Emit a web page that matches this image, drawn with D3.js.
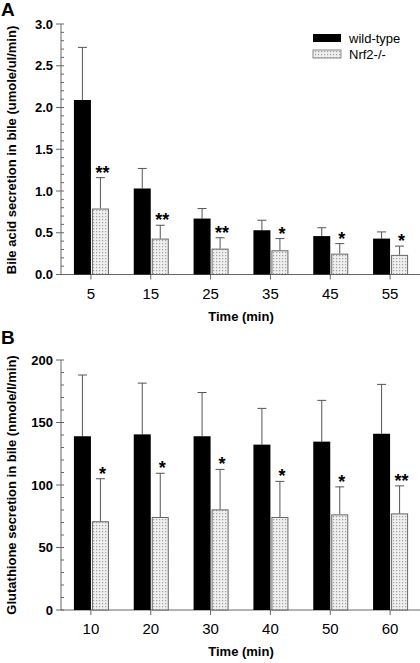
<!DOCTYPE html>
<html><head><meta charset="utf-8">
<script src="https://cdn.jsdelivr.net/npm/d3@7"></script>
<style>body{margin:0;background:#fff}svg{display:block;font-family:"Liberation Sans",Arial,sans-serif}</style>
</head><body><div id="c"></div>
<script>
const timesA = ["5","15","25","35","45","55"];
const wtA = [2.09,1.03,0.67,0.53,0.46,0.43];
const wtAerr = [0.63,0.24,0.12,0.12,0.10,0.08];
const koA = [0.79,0.43,0.31,0.29,0.25,0.235];
const koAerr = [0.37,0.16,0.13,0.14,0.12,0.105];
const sigA = ["**","**","**","*","*","*"];
const ticksA = [0,0.5,1.0,1.5,2.0,2.5,3.0];

const timesB = ["10","20","30","40","50","60"];
const wtB = [139,140.5,139,132.3,134.7,141];
const wtBerr = [49,41,35,29,33,39.5];
const koB = [71,74.4,80.5,74.4,76.5,77.3];
const koBerr = [34,35,32,28.5,22,22];
const sigB = ["*","*","*","*","*","**"];
const ticksB = [0,50,100,150,200];

const seriesNames = ["wild-type","Nrf2-/-"];

const W=420,H=663;
const svg=d3.select("#c").append("svg").attr("width",W).attr("height",H);
const defs=svg.append("defs");
const pat=defs.append("pattern").attr("id","dots").attr("patternUnits","userSpaceOnUse").attr("width",3).attr("height",3);
pat.append("rect").attr("width",3).attr("height",3).attr("fill","#efefef");
pat.append("rect").attr("width",1.2).attr("height",1.2).attr("fill","#a0a0a0");

function panel(cfg){
  const g=svg.append("g");
  const x=d3.scaleBand().domain(cfg.times).range([61,420]);
  const y=d3.scaleLinear().domain([0,cfg.max]).range([cfg.y0,cfg.y1]);
  const axc="#666";
  g.append("line").attr("x1",61).attr("x2",61).attr("y1",y(0)).attr("y2",y(cfg.max)).attr("stroke",axc);
  cfg.ticks.forEach(t=>{
    g.append("line").attr("x1",56).attr("x2",61).attr("y1",y(t)).attr("y2",y(t)).attr("stroke",axc);
    g.append("text").attr("x",53).attr("y",y(t)).attr("dy","0.35em").attr("text-anchor","end")
      .attr("font-size",13).attr("font-weight","bold").text(cfg.fmt(t));
  });
  d3.range(0,cfg.max+cfg.minor/2,cfg.minor).forEach(t=>{
    g.append("line").attr("x1",61).attr("x2",64).attr("y1",y(t)).attr("y2",y(t)).attr("stroke",axc);
  });
  g.append("line").attr("x1",61).attr("x2",420).attr("y1",y(0)).attr("y2",y(0)).attr("stroke",axc);
  cfg.times.forEach(t=>{
    const cx=x(t)+x.bandwidth()/2;
    g.append("line").attr("x1",cx).attr("x2",cx).attr("y1",y(0)).attr("y2",y(0)+5).attr("stroke",axc);
    g.append("text").attr("x",cx).attr("y",y(0)+24).attr("text-anchor","middle").attr("font-size",15).text(t);
  });
  cfg.times.forEach((t,i)=>{
    const cx=x(t)+x.bandwidth()/2;
    const bw=17;
    [[cfg.wt[i],cfg.wtErr[i],cx-bw/2],[cfg.ko[i],cfg.koErr[i],cx+1+bw/2]].forEach(([v,e,mx])=>{
      g.append("line").attr("x1",mx).attr("x2",mx).attr("y1",y(v)).attr("y2",y(v+e)).attr("stroke","#555");
      g.append("line").attr("x1",mx-4.5).attr("x2",mx+4.5).attr("y1",y(v+e)).attr("y2",y(v+e)).attr("stroke","#555");
    });
    g.append("rect").attr("x",cx-bw).attr("y",y(cfg.wt[i])).attr("width",bw).attr("height",y(0)-y(cfg.wt[i])).attr("fill","#000");
    g.append("rect").attr("x",cx+1.5).attr("y",y(cfg.ko[i])+0.5).attr("width",bw-1).attr("height",y(0)-y(cfg.ko[i])-0.5)
      .attr("fill","url(#dots)").attr("stroke","#666").attr("stroke-width",1);
    g.append("text").attr("x",cx+3+bw/2).attr("y",y(cfg.ko[i]+cfg.koErr[i])+1).attr("text-anchor","middle")
      .attr("font-size",18).attr("font-weight","bold").text(cfg.sig[i]);
  });
  g.append("text").attr("transform",`translate(16,${cfg.ytc}) rotate(-90)`).attr("text-anchor","middle")
    .attr("font-size",13).attr("font-weight","bold").text(cfg.ytitle);
  g.append("text").attr("x",241).attr("y",y(0)+46).attr("text-anchor","middle").attr("font-size",13).attr("font-weight","bold").text("Time (min)");
  g.append("text").attr("x",1).attr("y",cfg.letterY).attr("font-size",19).attr("font-weight","bold").text(cfg.letter);
}

panel({times:timesA,wt:wtA,wtErr:wtAerr,ko:koA,koErr:koAerr,sig:sigA,ticks:ticksA,max:3.0,minor:0.1,
  y0:274.5,y1:24,fmt:d3.format(".1f"),ytitle:"Bile acid secretion in bile (umole/ul/min)",ytc:150,letter:"A",letterY:16});
panel({times:timesB,wt:wtB,wtErr:wtBerr,ko:koB,koErr:koBerr,sig:sigB,ticks:ticksB,max:200,minor:10,
  y0:610,y1:360,fmt:d3.format("d"),ytitle:"Glutathione secretion in bile (nmole/l/min)",ytc:485,letter:"B",letterY:344});

const lg=svg.append("g");
seriesNames.forEach((n,i)=>{
  const yy=34+i*16;
  lg.append("rect").attr("x",313).attr("y",yy).attr("width",28).attr("height",8)
    .attr("fill",i===0?"#000":"url(#dots)").attr("stroke",i===0?"none":"#888");
  lg.append("text").attr("x",349).attr("y",yy+4).attr("dy","0.35em").attr("font-size",13).text(n);
});
</script></body></html>
